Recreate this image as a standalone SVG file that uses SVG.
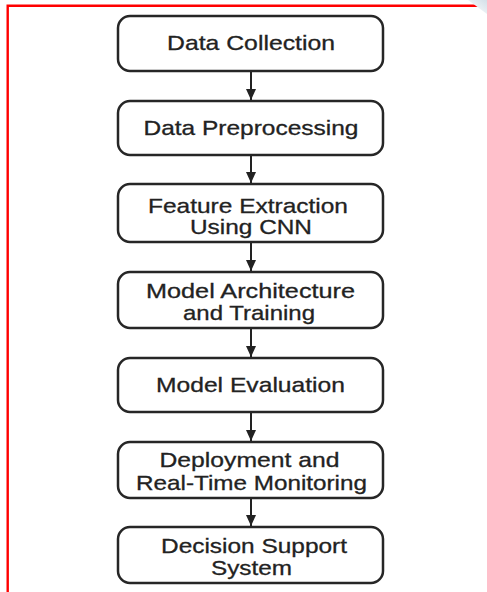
<svg xmlns="http://www.w3.org/2000/svg" width="487" height="592" viewBox="0 0 487 592">
  <defs>
    <style>
      .box { fill: #ffffff; stroke: #262626; stroke-width: 2.5; }
      .lbl { font-family: "Liberation Sans", Arial, sans-serif; font-size: 21px; fill: #222222; stroke: #222222; stroke-width: 0.3; text-anchor: middle; }
      .conn { stroke: #222222; stroke-width: 2; fill: none; }
      .frame { stroke: #ff0000; stroke-width: 2.4; fill: none; }
    </style>
    <marker id="arrow" markerUnits="userSpaceOnUse" markerWidth="11" markerHeight="11" refX="11" refY="5" orient="auto">
      <path d="M0,0 L11,5 L0,10 z" fill="#222222"/>
    </marker>
    <linearGradient id="corner" x1="0" y1="1" x2="1" y2="0">
      <stop offset="0" stop-color="#ffffff"/>
      <stop offset="1" stop-color="#d4e0e8"/>
    </linearGradient>
  </defs>
  <rect x="0" y="0" width="487" height="592" fill="#ffffff"/>
  <path d="M7.7,592 L7.7,5.8 L487,5.8" class="frame"/>
  <path d="M468,0 L487,0 L487,14 Z" fill="url(#corner)"/>

  <g id="connectors">
    <line class="conn" x1="251" y1="72" x2="251" y2="100" marker-end="url(#arrow)"/>
    <line class="conn" x1="251" y1="156" x2="251" y2="183" marker-end="url(#arrow)"/>
    <line class="conn" x1="251" y1="243" x2="251" y2="271" marker-end="url(#arrow)"/>
    <line class="conn" x1="251" y1="329" x2="251" y2="357" marker-end="url(#arrow)"/>
    <line class="conn" x1="251" y1="413" x2="251" y2="441" marker-end="url(#arrow)"/>
    <line class="conn" x1="251" y1="499" x2="251" y2="526" marker-end="url(#arrow)"/>
  </g>

  <g id="node-data-collection">
    <rect class="box" x="118" y="16" width="265" height="55" rx="12"/>
    <text class="lbl" x="251" y="50" textLength="168" lengthAdjust="spacingAndGlyphs">Data Collection</text>
  </g>
  <g id="node-data-preprocessing">
    <rect class="box" x="118" y="101" width="265" height="54" rx="12"/>
    <text class="lbl" x="251" y="135" textLength="215" lengthAdjust="spacingAndGlyphs">Data Preprocessing</text>
  </g>
  <g id="node-feature-extraction">
    <rect class="box" x="118" y="184" width="265" height="58" rx="12"/>
    <text class="lbl" x="248" y="212.5" textLength="200" lengthAdjust="spacingAndGlyphs">Feature Extraction</text>
    <text class="lbl" x="251" y="234" textLength="122" lengthAdjust="spacingAndGlyphs">Using CNN</text>
  </g>
  <g id="node-model-architecture">
    <rect class="box" x="118" y="272" width="265" height="56" rx="12"/>
    <text class="lbl" x="250.5" y="298" textLength="209" lengthAdjust="spacingAndGlyphs">Model Architecture</text>
    <text class="lbl" x="249" y="319.5" textLength="132" lengthAdjust="spacingAndGlyphs">and Training</text>
  </g>
  <g id="node-model-evaluation">
    <rect class="box" x="118" y="358" width="265" height="54" rx="12"/>
    <text class="lbl" x="250.5" y="391.5" textLength="189" lengthAdjust="spacingAndGlyphs">Model Evaluation</text>
  </g>
  <g id="node-deployment">
    <rect class="box" x="118" y="442" width="265" height="56" rx="12"/>
    <text class="lbl" x="249.5" y="466.5" textLength="180" lengthAdjust="spacingAndGlyphs">Deployment and</text>
    <text class="lbl" x="251.5" y="489.5" textLength="231" lengthAdjust="spacingAndGlyphs">Real-Time Monitoring</text>
  </g>
  <g id="node-decision-support">
    <rect class="box" x="118" y="527" width="265" height="56" rx="12"/>
    <text class="lbl" x="254" y="552.5" textLength="186" lengthAdjust="spacingAndGlyphs">Decision Support</text>
    <text class="lbl" x="251.5" y="575" textLength="81" lengthAdjust="spacingAndGlyphs">System</text>
  </g>
</svg>
